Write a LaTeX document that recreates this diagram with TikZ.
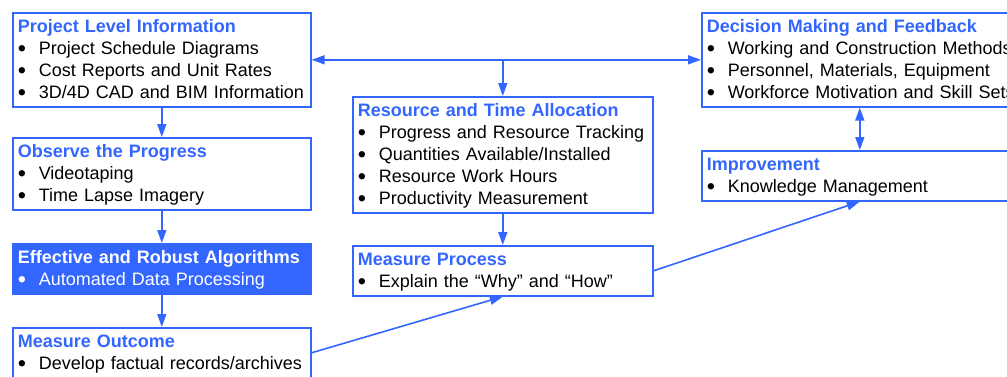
\documentclass[tikz,border=0pt]{standalone}
\usepackage{fontspec}
\setmainfont{Liberation Sans}
\usetikzlibrary{arrows.meta}

\definecolor{pblue}{RGB}{51,102,255}
% one line of a box: strut keeps the rows 22pt apart
\newcommand{\hd}[1]{\rule[-4pt]{0pt}{20pt}\textbf{#1}}
\newcommand{\bul}{\makebox[21pt][l]{\raisebox{-2pt}{\scalebox{1.3}{\textbullet}}}}
\newcommand{\itm}[1]{\rule[-4pt]{0pt}{20pt}\textcolor{black}{\bul\mbox{#1}}}

\begin{document}
\begin{tikzpicture}[x=1pt,y=-1pt,
    box/.style={draw=pblue, line width=1.6pt, fill=white, anchor=north west, align=left,
      inner xsep=5pt, inner ysep=4pt, font=\fontsize{18}{22}\selectfont},
    flow/.style={draw=pblue, line width=1.6pt, -{Triangle[length=13pt,width=9pt]}},
    both/.style={flow, {Triangle[length=13pt,width=9pt]}-{Triangle[length=13pt,width=9pt]}}]
    \useasboundingbox (0,0) rectangle (1007,376);
    \clip (0,0) rectangle (1007,376);

    % left column
    \node[box, text width=288pt] (pli) at (12,12) {\textcolor{pblue}{\hd{Project Level Information}}\\
        \itm{Project Schedule Diagrams}\\
        \itm{Cost Reports and Unit Rates}\\
        \itm{3D/4D CAD and BIM Information}};
    \node[box, text width=288pt] (obs) at (12,137) {\textcolor{pblue}{\hd{Observe the Progress}}\\
        \itm{Videotaping}\\
        \itm{Time Lapse Imagery}};
    \node[box, text width=288pt, fill=pblue, text=white] (alg) at (12,243) {\hd{Effective and Robust Algorithms}\\
        \rule[-4pt]{0pt}{20pt}\bul Automated Data Processing};
    \node[box, text width=288pt] (out) at (12,327) {\textcolor{pblue}{\hd{Measure Outcome}}\\
        \itm{Develop factual records/archives}};

    % middle column
    \node[box, text width=290pt] (res) at (352,96) {\textcolor{pblue}{\hd{Resource and Time Allocation}}\\
        \itm{Progress and Resource Tracking}\\
        \itm{Quantities Available/Installed}\\
        \itm{Resource Work Hours}\\
        \itm{Productivity Measurement}};
    \node[box, text width=290pt] (mp) at (352,245) {\textcolor{pblue}{\hd{Measure Process}}\\
        \itm{Explain the “Why” and “How”}};

    % right column, runs past the right edge
    \node[box, text width=306pt] (dec) at (701,12) {\textcolor{pblue}{\hd{Decision Making and Feedback}}\\
        \itm{Working and Construction Methods}\\
        \itm{Personnel, Materials, Equipment}\\
        \itm{Workforce Motivation and Skill Sets}};
    \node[box, text width=306pt] (imp) at (701,150) {\textcolor{pblue}{\hd{Improvement}}\\
        \itm{Knowledge Management}};

    % connectors
    \draw[both] (pli.east) -- (dec.west);
    \draw[flow] (pli.east -| res.north) -- (res.north);
    \draw[flow] (pli.south) -- (obs.north);
    \draw[flow] (obs.south) -- (alg.north);
    \draw[flow] (alg.south) -- (out.north);
    \draw[flow] (res.south) -- (mp.north);
    \draw[flow] (out.east) -- (mp.south);
    \draw[flow] (mp.east) -- (imp.south);
    \draw[both] (dec.south) -- (imp.north);
\end{tikzpicture}
\end{document}
